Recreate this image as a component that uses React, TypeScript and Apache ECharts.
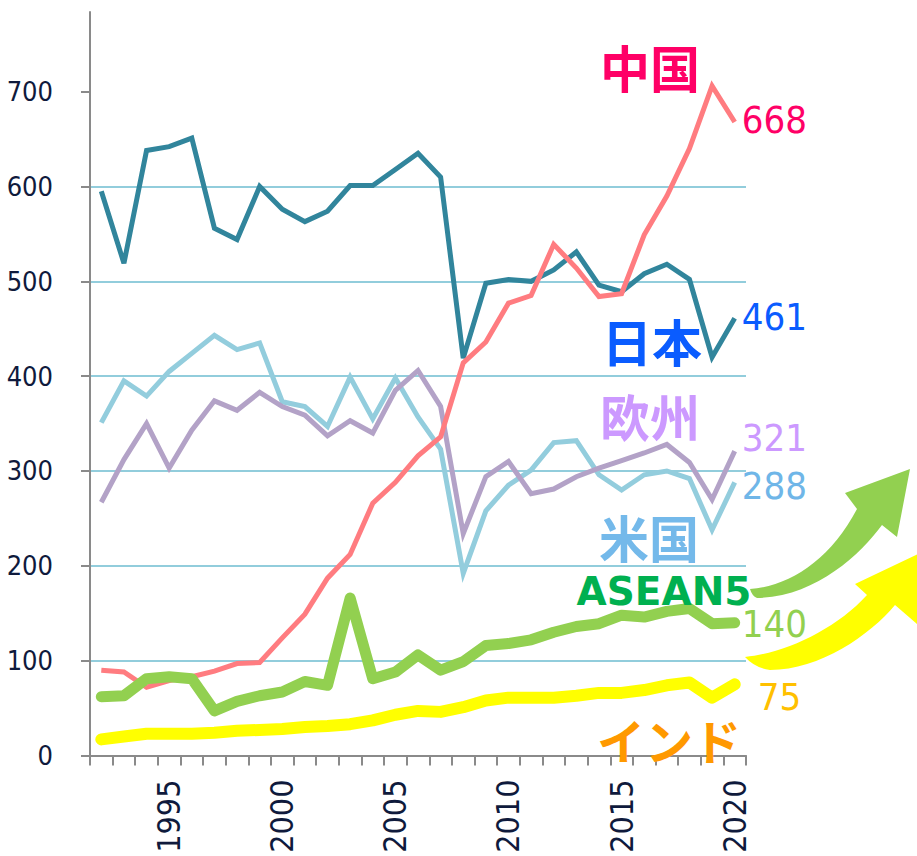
import React, { useEffect, useRef } from "react";
import * as echarts from "echarts";

const years = Array.from({ length: 29 }, (_, i) => String(1992 + i));
const japan = [595, 519, 638, 642, 651, 556, 544, 600, 576, 563, 574, 601, 601, 618, 635, 610, 419, 498, 502, 500, 512, 531, 496, 489, 508, 518, 502, 420, 461];
const china = [90, 88, 72, 79, 83, 89, 97, 98, 124, 149, 187, 212, 266, 288, 316, 336, 414, 436, 477, 485, 539, 514, 484, 487, 549, 590, 640, 706, 668];
const usa = [351, 395, 379, 405, 424, 443, 428, 435, 373, 368, 347, 399, 355, 398, 357, 323, 192, 258, 285, 301, 330, 332, 296, 280, 296, 300, 292, 238, 288];
const europe = [267, 312, 350, 303, 343, 374, 364, 383, 368, 359, 337, 353, 340, 385, 406, 368, 234, 294, 310, 276, 281, 294, 303, 311, 319, 328, 309, 270, 321];
const asean = [62, 63, 81, 83, 81, 47, 57, 63, 67, 78, 74, 166, 81, 88, 106, 90, 99, 116, 118, 122, 130, 136, 139, 148, 146, 152, 155, 139, 140];
const india = [17, 20, 23, 23, 23, 24, 26, 27, 28, 30, 31, 33, 37, 43, 47, 46, 51, 58, 61, 61, 61, 63, 66, 66, 69, 74, 77, 61, 75];
const yTicks = [0, 100, 200, 300, 400, 500, 600, 700];

const greenArrowD =
  "M750,589 C790,586 830,560 857,509 L845,493 L910,469 L897,537 L882,525 C860,555 815,597 757,598 Q752,596 750,589 Z";
const yellowArrowD =
  "M745,657 C785,653 835,630 867,595 L855,584 L935,546 L917,624 L895,605 C870,635 820,670 770,670 Q755,668 745,657 Z";

echarts.graphic.registerShape("greenArrow", echarts.graphic.extendPath(greenArrowD, {}));
echarts.graphic.registerShape("yellowArrow", echarts.graphic.extendPath(yellowArrowD, {}));

const NUM_FONT = "'DejaVu Sans Condensed', 'DejaVu Sans', sans-serif";
const CJK_FONT = "'Noto Sans CJK JP', sans-serif";

function lineSeries(name: string, data: number[], color: string, width: number, label: any, z: number, round = false) {
  return {
    name,
    type: "line",
    data,
    symbol: "none",
    z,
    lineStyle: { color, width, cap: round ? "round" : "butt", join: round ? "round" : "miter" },
    endLabel: {
      show: true,
      formatter: (p: any) => String(Array.isArray(p.value) ? p.value[1] : p.value),
      color: label.color,
      fontSize: 38,
      fontFamily: NUM_FONT,
      distance: label.distance ?? 7,
      offset: label.offset ?? [0, 0],
    },
  };
}

function cjkText(text: string, x: number, y: number, color: string, size: number) {
  return {
    type: "text",
    x,
    y,
    z: 100,
    style: {
      text,
      fill: color,
      font: `bold ${size}px ${CJK_FONT}`,
      textAlign: "center",
      textVerticalAlign: "middle",
      align: "center",
      verticalAlign: "middle",
    },
  };
}

export default function App() {
  const ref = useRef<HTMLDivElement>(null);
  useEffect(() => {
    const chart = echarts.init(ref.current!, undefined, { renderer: "svg" });
    chart.setOption({
      animation: false,
      backgroundColor: "#ffffff",
      grid: { left: 90, right: 171, top: 12, bottom: 100.5, containLabel: false },
      xAxis: {
        type: "category",
        data: years,
        boundaryGap: true,
        axisLine: { lineStyle: { color: "#8a8a8a", width: 2 } },
        axisTick: { show: true, interval: 0, length: 10, lineStyle: { color: "#8a8a8a", width: 2 } },
        axisLabel: {
          interval: (idx: number, val: string) => Number(val) % 5 === 0,
          rotate: 90,
          margin: 24,
          fontSize: 32,
          fontFamily: NUM_FONT,
          color: "#0f1a3c",
        },
        splitLine: { show: false },
      },
      yAxis: {
        type: "value",
        min: 0,
        max: 784,
        interval: 100,
        axisLine: { show: true, lineStyle: { color: "#8a8a8a", width: 2 } },
        axisTick: { show: true, length: 9, customValues: yTicks, lineStyle: { color: "#8a8a8a", width: 2 } },
        axisLabel: {
          margin: 37,
          fontSize: 27,
          fontFamily: NUM_FONT,
          color: "#0f1a3c",
          customValues: yTicks,
          formatter: (v: number) => (v % 100 === 0 ? String(v) : ""),
        },
        splitLine: { show: true, showMaxLine: false, showMinLine: false, lineStyle: { color: "#92cddc", width: 2 } },
      },
      series: [
        lineSeries("米国", usa, "#93cddd", 5, { color: "#6fb6e8", offset: [0, 4] }, 2),
        lineSeries("欧州", europe, "#b3a2c7", 5, { color: "#cc99ff", offset: [0, -13] }, 3),
        lineSeries("日本", japan, "#31859c", 5, { color: "#0a5cff", offset: [0, -1] }, 4),
        lineSeries("中国", china, "#ff7c80", 5, { color: "#ff0066", offset: [0, -2] }, 5),
        lineSeries("インド", india, "#ffff00", 12, { color: "#ffc000", offset: [16, 13] }, 6, true),
        lineSeries("ASEAN5", asean, "#92d050", 11, { color: "#92d050", offset: [0, 1] }, 7, true),
      ],
      graphic: [
        { type: "greenArrow", x: 0, y: 0, z: 50, style: { fill: "#92d050" } },
        { type: "yellowArrow", x: 0, y: 0, z: 50, style: { fill: "#ffff00" } },
        cjkText("中国", 650, 66, "#ff0066", 50),
        cjkText("日本", 652, 340, "#0a5cff", 50),
        cjkText("欧州", 650, 415, "#cc99ff", 50),
        cjkText("米国", 649, 536, "#74b9ea", 50),
        cjkText("インド", 669, 739, "#ff9900", 48),
        {
          type: "text",
          x: 664,
          y: 591,
          z: 100,
          style: {
            text: "ASEAN5",
            fill: "#00b050",
            font: `bold 39px 'DejaVu Sans', sans-serif`,
            textAlign: "center",
            textVerticalAlign: "middle",
            align: "center",
            verticalAlign: "middle",
          },
        },
      ],
    });
    return () => chart.dispose();
  }, []);
  return (
    <div
      ref={ref}
      style={{ position: "fixed", left: 0, top: 0, width: 917, height: 856, background: "#fff" }}
    />
  );
}
